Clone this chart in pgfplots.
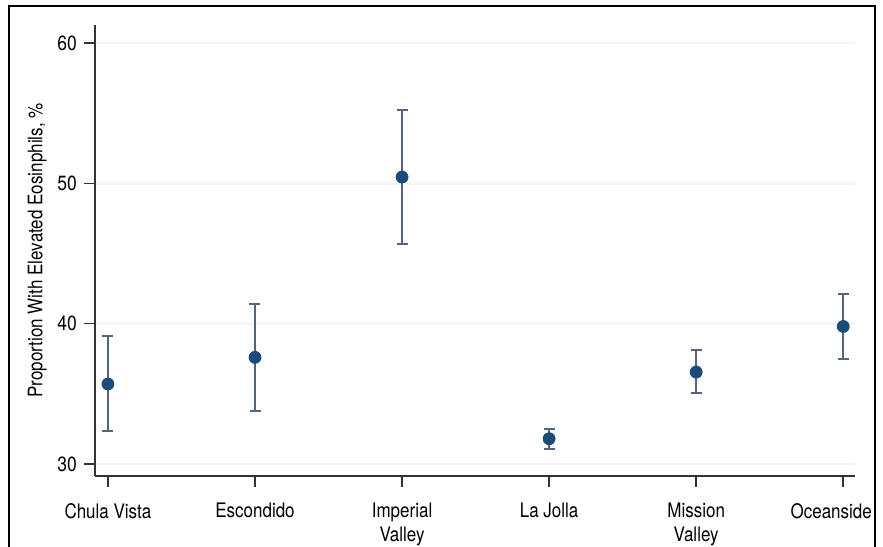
\documentclass[border=0pt]{standalone}
\usepackage{fontspec}
\setmainfont{TeX Gyre Heros}[FakeStretch=0.85]
\usepackage{pgfplots}
\usepackage{pgfplotstable}
\pgfplotsset{compat=1.18}
\definecolor{markblue}{HTML}{1B4B78}
\definecolor{barcol}{HTML}{56647F}
\definecolor{axcol}{HTML}{333333}
\pgfplotstableread{
x y ep em
0 35.7 3.4 3.35
1 37.6 3.8 3.8
2 50.45 4.8 4.8
3 31.8 0.7 0.7
4 36.55 1.55 1.5
5 39.8 2.3 2.3
}\data
\begin{document}
\begin{tikzpicture}
\begin{axis}[
  at={(0,0)}, anchor=south west,
  scale only axis, width=380pt, height=225.5pt,
  xmin=-0.088, xmax=5.08, ymin=29.143, ymax=61.29,
  axis x line*=bottom, axis y line*=left,
  axis line style={line width=0.75pt, color=axcol},
  xtick={0,1,2,3,4,5},
  xticklabels={Chula Vista, Escondido, Imperial\\Valley, La Jolla, Mission\\Valley, Oceanside\hspace*{12pt}},
  xticklabel style={align=center, yshift=-4.5pt, font=\fontsize{10}{12}\selectfont},
  ytick={30,40,50,60},
  yticklabel style={font=\fontsize{10.3}{12}\selectfont},
  /pgf/number format/assume math mode=true,
  tick align=outside, major tick length=5.5pt,
  tick style={line width=0.75pt, color=axcol},
  ymajorgrids, grid style={line width=1.2pt, color=gray!8},
  ylabel={Proportion With Elevated Eosinphils, \%},
  ylabel style={at={(axis description cs:-0.076,0.5)}, anchor=center, font=\fontsize{10}{12}\selectfont},
  clip=false,
]
\addplot[only marks, mark=*, mark size=3pt, mark options={fill=markblue, draw=markblue},
  error bars/.cd, y dir=both, y explicit,
  error bar style={line width=1pt, color=barcol},
  error mark options={rotate=90, mark size=2.75pt, line width=1pt, color=barcol}]
  table[x=x, y=y, y error plus=ep, y error minus=em] {\data};
\end{axis}
\draw[line width=0.75pt] (-43pt,-40pt) -- (-43pt,235pt) -- (390pt,235pt) -- (390pt,-40pt);
\pgfresetboundingbox
\path[use as bounding box] (-47.5pt,-35pt) rectangle (394pt,238pt);
\end{tikzpicture}
\end{document}
